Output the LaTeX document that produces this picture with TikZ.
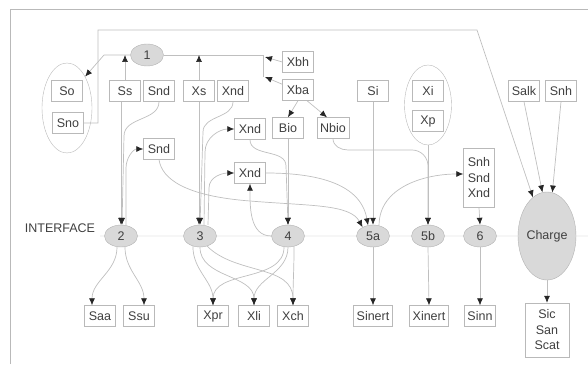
\documentclass[tikz,border=0pt]{standalone}
\usepackage{fontspec}
\setmainfont{Liberation Sans}
\usetikzlibrary{arrows.meta,shapes.geometric}

\begin{document}
\begin{tikzpicture}[x=1pt,y=1pt,
  font=\fontsize{12.5}{15.5}\selectfont,
  box/.style={draw=gray!55,fill=white,text=black!75,minimum width=31pt,minimum height=21pt,inner xsep=3pt,inner ysep=2pt},
  proc/.style={ellipse,draw=gray!60,fill=gray!30,text=black!75,minimum width=33pt,minimum height=22pt,inner sep=0pt},
  grp/.style={ellipse,draw=gray!55,inner sep=0pt},
  link/.style={draw=gray!50,line width=0.7pt},
  arr/.style={link,-{Latex[length=7pt,width=6pt,color=black!85]}}]
  \useasboundingbox (0,0) rectangle (588,364);
  \draw[gray!55] (10,0) -- (10,355) -- (588,355);
  \draw[gray!7,line width=1.5pt] (100,128) -- (588,128);

  % inputs
  \node[proc] (p1) at (147,309) {1};
  \node[grp,minimum width=50pt,minimum height=90pt] (gS) at (67,256) {};
  \node[box] (So) at (67,273) {So};
  \node[box] (Sno) at (68,241) {Sno};
  \node[box] (Ss) at (125,273) {Ss};
  \node[box] (Snd1) at (159,273) {Snd};
  \node[box] (Xs) at (199,273) {Xs};
  \node[box] (Xnd1) at (233,273) {Xnd};
  \node[box] (Xbh) at (298,302) {Xbh};
  \node[box] (Xba) at (298,274) {Xba};
  \node[box] (Xnd2) at (250,235) {Xnd};
  \node[box] (Bio) at (288,236) {Bio};
  \node[box] (Nbio) at (333,236) {Nbio};
  \node[box] (Snd2) at (159,215) {Snd};
  \node[box] (Xnd3) at (250,191) {Xnd};
  \node[box] (Si) at (373,273) {Si};
  \node[grp,minimum width=47pt,minimum height=80pt] (gX) at (428,259) {};
  \node[box] (Xi) at (428,273) {Xi};
  \node[box] (Xp) at (428,243) {Xp};
  \node[box,align=center,minimum height=59pt] (Snh2) at (479,186) {Snh\\Snd\\Xnd};
  \node[box] (Salk) at (524,273) {Salk};
  \node[box] (Snh1) at (561,273) {Snh};

  % interface
  \node[text=black!75] (iface) at (60,136) {INTERFACE};
  \node[proc] (p2) at (121,128) {2};
  \node[proc] (p3) at (200,128) {3};
  \node[proc] (p4) at (288,128) {4};
  \node[proc] (p5a) at (373,128) {5a};
  \node[proc] (p5b) at (428,128) {5b};
  \node[proc] (p6) at (480,128) {6};
  \node[proc,minimum width=52pt,minimum height=88pt] (chg) at (547,128) {Charge};

  % outputs
  \node[box] (Saa) at (100,48) {Saa};
  \node[box] (Ssu) at (139,48) {Ssu};
  \node[box] (Xpr) at (213,48) {Xpr};
  \node[box] (Xli) at (254,48) {Xli};
  \node[box] (Xch) at (293,48) {Xch};
  \node[box] (Sinert) at (373,48) {Sinert};
  \node[box] (Xinert) at (429,48) {Xinert};
  \node[box] (Sinn) at (480,48) {Sinn};
  \node[box,align=center,minimum width=44pt,minimum height=54pt] (Sic) at (547,34) {Sic\\San\\Scat};

  % process 1
  \coordinate (jh) at (265,307);
  \coordinate (jb) at (265,287);
  \draw[arr] (Sno.east) -| (98,334) -- (477,334) -- (chg.110);
  \draw[arr] (p1.west) -- (104,309) -- (gS.60);
  \draw[link] (p1.east) -- (263,309) -- (263,287);
  \draw[arr] (Xbh.west) -- (jh);
  \draw[arr] (Xba.160) -- (jb);
  \draw[arr] (Ss.north) -- (Ss.north |- p1.center);
  \draw[arr] (Xs.north) -- (Xs.north |- p1.center);
  \draw[arr] (Xba.south) -- (Bio.north);
  \draw[arr] ([xshift=9pt]Xba.south) -- ([xshift=-6pt]Nbio.north);

  % process 2
  \draw[arr] (p2.north |- Ss.south) -- (p2.north);
  \draw[arr] (Snd1.south) to[out=270,in=90] (124,228) -- ([xshift=1pt]p2.north);
  \draw[arr] ([xshift=5pt]p2.north) -- (126,196) to[out=90,in=180] (Snd2.west);
  \draw[arr] (p2.250) to[out=270,in=90] ([xshift=-8pt]Saa.north);
  \draw[arr] (p2.290) to[out=270,in=90] ([xshift=5pt]Ssu.north);

  % process 3
  \draw[arr] (Xs.south) -- (Xs.south |- p3.north);
  \draw[arr] (Xnd1.south) to[out=270,in=90] (203,232) -- (p3.north);
  \draw[arr] ([xshift=4pt]p3.north) -- (205,212) to[out=90,in=180] (Xnd2.west);
  \draw[arr] ([xshift=8pt]p3.north) -- (209,176) to[out=90,in=180] (Xnd3.west);
  \draw[arr] (p3.235) to[out=270,in=90] (Xpr.north);
  \draw[arr] (p3.south) to[out=270,in=90] (Xli.north);
  \draw[arr] (p3.305) to[out=-45,in=90] (Xch.north);

  % process 4
  \draw[arr] (Bio.south) -- (p4.north);
  \draw[arr] (Xnd2.south) to[out=270,in=90] (286,198) -- (p4.north);
  \draw[arr] (p4.west) to[out=180,in=270] (Xnd3.south);
  \draw[arr] (p4.250) to[out=270,in=90] (Xpr.north);
  \draw[arr] (p4.south) to[out=270,in=90] (Xli.north);
  \draw[arr] (p4.300) to[out=270,in=90] (Xch.north);

  % processes 5a, 5b, 6 and charge
  \draw[arr] (Si.south) -- (p5a.north);
  \draw[arr] (Snd2.south) .. controls (162,185) and (185,168) .. (250,163) .. controls (310,158) and (350,160) .. (p5a.140);
  \draw[arr] (Xnd3.east) to[out=0,in=100] (p5a.115);
  \draw[arr] (p5a.60) to[out=90,in=180] ([yshift=4pt]Snh2.west);
  \draw[arr] (Nbio.south) to[out=270,in=180] (348,214) -- (412,214) to[out=0,in=90] (428,198) -- (p5b.north);
  \draw[arr] (gX.south) -- (p5b.north);
  \draw[arr] (Snh2.south) -- (p6.north);
  \draw[arr] (Salk.south) -- (chg.96);
  \draw[arr] (Snh1.south) -- (chg.83);
  \draw[arr] (p5a.south) -- (Sinert.north);
  \draw[arr] (p5b.south) -- (Xinert.north);
  \draw[arr] (p6.south) -- (Sinn.north);
  \draw[arr] (chg.south) -- (Sic.north);
\end{tikzpicture}
\end{document}
